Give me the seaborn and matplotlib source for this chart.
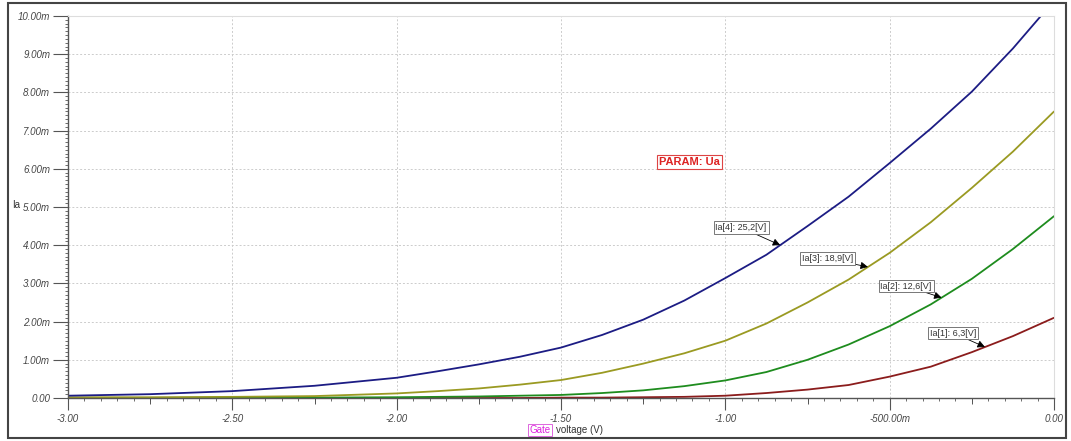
import numpy as np
import pandas as pd
import seaborn as sns
import matplotlib
matplotlib.use("Agg")
import matplotlib.pyplot as plt
from matplotlib.ticker import MultipleLocator, FuncFormatter
from matplotlib.patches import Rectangle

sns.set_style("white")
plt.rcParams['font.family'] = ['Liberation Sans', 'DejaVu Sans']

# gate voltage (V) and anode current (mA)
vg = [-3.0, -2.75, -2.5, -2.25, -2.0, -1.875, -1.75, -1.625, -1.5, -1.375,
      -1.25, -1.125, -1.0, -0.875, -0.75, -0.625, -0.5, -0.375, -0.25,
      -0.125, 0.0]
ia4 = [0.06, 0.10, 0.18, 0.32, 0.53, 0.70, 0.88, 1.08, 1.32, 1.65,
       2.05, 2.55, 3.14, 3.75, 4.50, 5.27, 6.15, 7.05, 8.02,
       9.15, 10.40]
ia3 = [0.02, 0.02, 0.03, 0.05, 0.12, 0.18, 0.25, 0.35, 0.47, 0.66,
       0.90, 1.17, 1.50, 1.95, 2.50, 3.10, 3.80, 4.60, 5.50,
       6.45, 7.50]
ia2 = [0.0, 0.0, 0.01, 0.01, 0.02, 0.03, 0.04, 0.06, 0.08, 0.13,
       0.20, 0.31, 0.46, 0.68, 1.00, 1.40, 1.88, 2.45, 3.12,
       3.90, 4.76]
ia1 = [0.0, 0.0, 0.0, 0.0, 0.0, 0.0, 0.0, 0.0, 0.01, 0.01,
       0.02, 0.03, 0.06, 0.13, 0.22, 0.34, 0.56, 0.82, 1.20,
       1.62, 2.10]

curves = ["Ia[1]: 6,3[V]", "Ia[2]: 12,6[V]", "Ia[3]: 18,9[V]", "Ia[4]: 25,2[V]"]
colors = ["#8b1c1c", "#1e8c1e", "#9a9a22", "#1c1c84"]
label_x = [-0.21, -0.342, -0.566, -0.833]
label_pos = [(-0.306, 1.70), (-0.45, 2.93), (-0.688, 3.65), (-0.952, 4.46)]

df = pd.concat([
    pd.DataFrame({"vg": vg, "ia": ys, "curve": name})
    for name, ys in zip(curves, [ia1, ia2, ia3, ia4])
])

fig = plt.figure(figsize=(10.71, 4.41), dpi=100)
ax = fig.add_axes([68 / 1071, 1 - 398 / 441, (1054 - 68) / 1071, (398 - 16) / 441])

sns.lineplot(data=df, x="vg", y="ia", hue="curve", palette=dict(zip(curves, colors)),
             legend=False, ax=ax, linewidth=1.3, estimator=None, sort=False)

ax.set_xlim(-3.0, 0.0)
ax.set_ylim(0, 10)
ax.set_xlabel("")
ax.set_ylabel("")

ax.xaxis.set_major_locator(MultipleLocator(0.5))
ax.xaxis.set_minor_locator(MultipleLocator(0.05))
ax.yaxis.set_major_locator(MultipleLocator(1.0))
ax.yaxis.set_minor_locator(MultipleLocator(0.1))


def fmt_x(v, pos):
    if abs(v) < 1e-9:
        return "0.00"
    if abs(v) < 1:
        return "%.2fm" % (v * 1000)
    return "%.2f" % v


def fmt_y(v, pos):
    if abs(v) < 1e-9:
        return "0.00"
    return "%.2fm" % v


ax.xaxis.set_major_formatter(FuncFormatter(fmt_x))
ax.yaxis.set_major_formatter(FuncFormatter(fmt_y))

ax.tick_params(axis="both", which="major", direction="out", color="#555555",
               labelsize=7, labelcolor="#444444", width=0.8)
ax.tick_params(axis="y", which="major", length=10.8, pad=2)
ax.tick_params(axis="x", which="major", length=8.8, pad=2.5)
ax.tick_params(axis="both", which="minor", direction="out", length=2.2,
               color="#555555", width=0.6)
ax.tick_params(axis="both", which="both", bottom=True, left=True)
for lab in ax.get_xticklabels() + ax.get_yticklabels():
    lab.set_fontstyle("italic")

# medium ticks at quarter volts
sec = ax.secondary_xaxis(0)
sec.set_xticks(np.arange(-2.75, 0, 0.5))
sec.set_xticklabels([])
sec.tick_params(length=4.5, color="#555555", width=0.7)
sec.spines["bottom"].set_visible(False)

ax.grid(True, which="major", linestyle=(0, (2, 2)), color="#cccccc", linewidth=0.7)
for side in ["left", "bottom"]:
    ax.spines[side].set_color("#555555")
    ax.spines[side].set_linewidth(1.0)
for side in ["top", "right"]:
    ax.spines[side].set_color("#dddddd")
    ax.spines[side].set_linewidth(0.8)

# curve labels with arrows
series = [ia1, ia2, ia3, ia4]
for name, ys, lx, (tx, ty) in zip(curves, series, label_x, label_pos):
    ly = np.interp(lx, vg, ys)
    ax.annotate(name, xy=(lx, ly), xytext=(tx, ty), fontsize=6.5, color="#333333",
                ha="center", va="center",
                bbox=dict(boxstyle="square,pad=0.2", fc="white", ec="#777777", lw=0.7),
                arrowprops=dict(arrowstyle="-|>", color="black", lw=0.6,
                                mutation_scale=11, shrinkA=0, shrinkB=0))

ax.text(-1.11, 6.18, "PARAM: Ua", fontsize=8, fontweight="bold", color="#dd2222",
        ha="center", va="center",
        bbox=dict(boxstyle="square,pad=0.2", fc="white", ec="#dd4444", lw=0.8))

# axis titles
fig.text(12 / 1071, 1 - 205 / 441, "Ia", fontsize=7, color="#333333", ha="left", va="center")
fig.text(540 / 1071, 1 - 430 / 441, "Gate", fontsize=7, color="#dd22dd", ha="center", va="center",
         bbox=dict(boxstyle="square,pad=0.15", fc="white", ec="#dd66dd", lw=0.7))
fig.text(556 / 1071, 1 - 430 / 441, "voltage (V)", fontsize=7, color="#333333", ha="left", va="center")

# outer frame
fig.patches.append(Rectangle((8 / 1071, 3 / 441), 1058 / 1071, 435 / 441,
                             transform=fig.transFigure, fill=False,
                             edgecolor="#444444", linewidth=1.5))

fig.savefig("out.png", dpi=100)
